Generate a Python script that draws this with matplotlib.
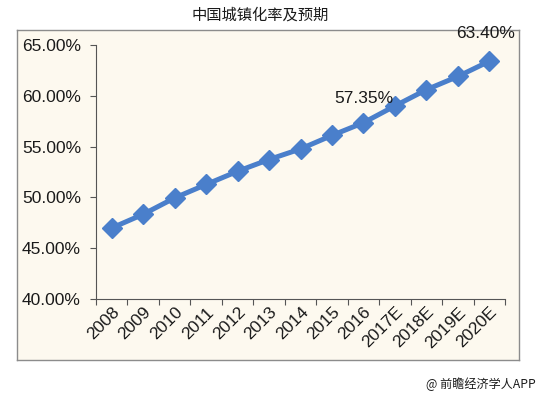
import matplotlib
matplotlib.use("Agg")
import matplotlib.pyplot as plt
from matplotlib.ticker import FuncFormatter, FixedLocator

plt.rcParams['font.family'] = ['Liberation Sans', 'Noto Sans CJK SC', 'DejaVu Sans']

years = ["2008", "2009", "2010", "2011", "2012", "2013", "2014", "2015", "2016",
         "2017E", "2018E", "2019E", "2020E"]
rates = [46.99, 48.34, 49.95, 51.27, 52.57, 53.73, 54.77, 56.10, 57.35,
         59.0, 60.6, 61.9, 63.4]
labeled = {8: "57.35%", 12: "63.40%"}
label_offsets = {8: (0, 14.4), 12: (-3, 17)}

W, H = 542, 395
fig = plt.figure(figsize=(W / 100, H / 100), dpi=100)
fig.patch.set_facecolor("white")
bg = "#FDF9EF"

# outer chart box as a background axes
box = fig.add_axes([17 / W, 1 - 360 / H, (519 - 17) / W, (360 - 30) / H], zorder=0)
box.set_facecolor(bg)
box.set_xticks([])
box.set_yticks([])
for s in box.spines.values():
    s.set_color("#8C8C8C")
    s.set_linewidth(1.0)

ax = fig.add_axes([96 / W, 1 - 299 / H, (505 - 96) / W, (299 - 45) / H], zorder=1)
ax.patch.set_alpha(0)
x = list(range(len(years)))
ax.plot(x, rates, color="#4A7FCB", linewidth=3.6, marker="D", markersize=10,
        markerfacecolor="#4A7FCB", markeredgecolor="#4A7FCB", zorder=3, clip_on=False)

for i, t in labeled.items():
    ax.annotate(t, (x[i], rates[i]), xytext=label_offsets[i],
                textcoords="offset points", ha="center", va="baseline",
                fontsize=12.5, color="#1a1a1a", annotation_clip=False)

ax.set_xlim(-0.5, len(years) - 0.5)
ax.set_ylim(40, 65)
ax.set_yticks([40, 45, 50, 55, 60, 65])
ax.yaxis.set_major_formatter(FuncFormatter(lambda v, p: f"{v:.2f}%"))
ax.set_xticks(x)
ax.set_xticklabels(years, rotation=45, ha="right", rotation_mode="anchor")
ax.xaxis.set_minor_locator(FixedLocator([i - 0.5 for i in range(len(years) + 1)]))
ax.tick_params(axis="x", which="major", length=0, labelsize=12.5, pad=4, colors="#1a1a1a")
ax.tick_params(axis="x", which="minor", length=4.3, width=0.8, color="#555555", direction="out")
ax.tick_params(axis="y", length=4.3, width=0.8, color="#555555", labelsize=12.5,
               labelcolor="#1a1a1a", pad=6.5)
for s in ["top", "right"]:
    ax.spines[s].set_visible(False)
for s in ["left", "bottom"]:
    ax.spines[s].set_color("#555555")
    ax.spines[s].set_linewidth(0.8)

fig.text(260 / W, 1 - 15 / H, "中国城镇化率及预期", ha="center", va="center",
         fontsize=11, color="#1a1a1a", family=['Noto Sans CJK SC', 'DejaVu Sans'])
fig.text(536 / W, 1 - 384 / H, "@ 前瞻经济学人APP", ha="right", va="center",
         fontsize=8.7, color="#1a1a1a", family=['Noto Sans CJK SC', 'DejaVu Sans'])

fig.savefig("out.png", dpi=100, facecolor="white")
